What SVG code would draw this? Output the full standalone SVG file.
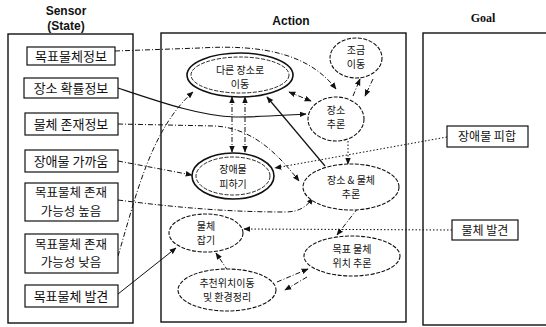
<svg xmlns="http://www.w3.org/2000/svg" width="546" height="327" viewBox="0 0 546 327">
<defs>
<marker id="ah" viewBox="0 0 10 10" refX="9" refY="5" markerWidth="7" markerHeight="7" orient="auto-start-reverse" markerUnits="userSpaceOnUse">
<path d="M0,1 L10,5 L0,9 z" fill="#111"/>
</marker>
<style>
.frame{fill:none;stroke:#111;stroke-width:1.4}
.box{fill:#fff;stroke:#111;stroke-width:1.2}
.st{font-family:"Noto Sans CJK KR","Noto Sans",sans-serif;font-size:13px;fill:#111;text-anchor:middle}
.st2{font-family:"Noto Sans CJK KR","Noto Sans",sans-serif;font-size:12.5px;fill:#111;text-anchor:middle}
.et{font-family:"Noto Sans CJK KR","Noto Sans",sans-serif;font-size:10px;fill:#111;text-anchor:middle}
.gt{font-family:"Noto Sans CJK KR","Noto Sans",sans-serif;font-size:12px;fill:#111;text-anchor:middle}
.hd{font-family:"Liberation Sans",Arial,sans-serif;font-size:12px;font-weight:bold;fill:#111;text-anchor:middle}
.hs{font-family:"Liberation Serif","Times New Roman",serif;font-size:12px;font-weight:bold;fill:#111;text-anchor:middle}
.el{fill:#fff;stroke:#111;stroke-width:1.1;stroke-dasharray:4,1.5}
.eo{fill:#fff;stroke:#111;stroke-width:1.6}
.ei{fill:none;stroke:#111;stroke-width:0.9;stroke-dasharray:4,1.5}
.c{fill:none;stroke:#111;stroke-width:1;marker-end:url(#ah)}
.dd{stroke-dasharray:5,2,1,2}
.dt{stroke-dasharray:1.5,2}
.sl{stroke-width:1.2}
.both{marker-start:url(#ah)}
</style>
</defs>
<rect width="546" height="327" fill="#fff"/>

<g id="headers">
<text class="hd" x="66" y="15">Sensor</text>
<text class="hd" x="66" y="30">(State)</text>
<text class="hd" x="291" y="25">Action</text>
<text class="hs" x="483" y="22">Goal</text>
</g>

<g id="frames">
<rect class="frame" x="8" y="34" width="125" height="289"/>
<rect class="frame" x="161" y="33" width="245" height="289"/>
<rect class="frame" x="423" y="33" width="130" height="292"/>
</g>

<g id="connectors">
<path class="c dd" d="M115,51 L200,48 C265,44 310,55 336,89"/>
<path class="c sl" d="M118,88 C160,102 200,116 235,117 C260,117 285,115 306,114"/>
<path class="c dd" d="M118,124 L215,126 C250,128 275,150 299,181"/>
<path class="c dd" d="M118,161 L192,175"/>
<path class="c dd" d="M118,200 C180,208 230,212 285,212 C300,212 307,206 313,198"/>
<path class="c dd" d="M118,256 C135,200 150,130 193,92"/>
<path class="c" d="M118,294 L176,248"/>
<path class="c dd both" d="M289,92 L311,101"/>
<path class="c dd" d="M353,96 L360,79"/>
<path class="c dd" d="M373,79 L365,96"/>
<path class="c dd both" d="M232,97 L232,152"/>
<path class="c dd both" d="M245,97 L245,152"/>
<path class="c sl" d="M325,166 L267,97"/>
<path class="c dt" d="M348,141 L348,164"/>
<path class="c dd" d="M358,208 L337,235"/>
<path class="c dt" d="M452,230 L244,229"/>
<path class="c dt" d="M447,137 L275,168"/>
<path class="c dd" d="M228,271 L216,253"/>
<path class="c dd" d="M277,282 L308,269"/>
<path class="c dd" d="M307,277 L285,290"/>
</g>

<g id="s1"><rect class="box" x="27" y="47" width="88" height="18"/><text class="st" x="71" y="61">목표물체정보</text></g>
<g id="s2"><rect class="box" x="24" y="78" width="94" height="20"/><text class="st" x="71" y="93">장소 확률정보</text></g>
<g id="s3"><rect class="box" x="25" y="113" width="93" height="22"/><text class="st" x="71" y="129">물체 존재정보</text></g>
<g id="s4"><rect class="box" x="25" y="150" width="93" height="22"/><text class="st" x="71" y="166">장애물 가까움</text></g>
<g id="s5"><rect class="box" x="25" y="183" width="93" height="38"/><text class="st2" x="71" y="197">목표물체 존재</text><text class="st2" x="71" y="215.5">가능성 높음</text></g>
<g id="s6"><rect class="box" x="25" y="234" width="93" height="39"/><text class="st2" x="71" y="248.5">목표물체 존재</text><text class="st2" x="71" y="267">가능성 낮음</text></g>
<g id="s7"><rect class="box" x="25" y="285" width="93" height="22"/><text class="st" x="71" y="301">목표물체 발견</text></g>

<g id="a1"><ellipse class="eo" cx="240" cy="75" rx="53" ry="22"/><ellipse class="ei" cx="240" cy="75" rx="49" ry="18"/><text class="et" x="240" y="74">다른 장소로</text><text class="et" x="240" y="88">이동</text></g>
<g id="a2"><ellipse class="el" cx="356" cy="58" rx="26" ry="20"/><text class="et" x="356" y="54">조금</text><text class="et" x="356" y="68">이동</text></g>
<g id="a3"><ellipse class="el" cx="336" cy="119" rx="28" ry="22"/><text class="et" x="336" y="114">장소</text><text class="et" x="336" y="128">추론</text></g>
<g id="a4"><ellipse class="eo" cx="233" cy="176" rx="41" ry="23"/><ellipse class="ei" cx="233" cy="176" rx="37" ry="19"/><text class="et" x="233" y="173">장애물</text><text class="et" x="233" y="188">피하기</text></g>
<g id="a5"><ellipse class="el" cx="351" cy="187" rx="48" ry="23"/><text class="et" x="351" y="184">장소 &amp; 물체</text><text class="et" x="351" y="198">추론</text></g>
<g id="a6"><ellipse class="el" cx="206" cy="233" rx="37" ry="19"/><text class="et" x="206" y="230">물체</text><text class="et" x="206" y="244">잡기</text></g>
<g id="a7"><ellipse class="el" cx="352" cy="256" rx="48" ry="20"/><text class="et" x="352" y="253">목표 물체</text><text class="et" x="352" y="267">위치 추론</text></g>
<g id="a8"><ellipse class="el" cx="227" cy="290" rx="49" ry="21"/><text class="et" x="227" y="287">추천위치이동</text><text class="et" x="227" y="301">및 환경정리</text></g>

<g id="g1"><rect class="box" x="447" y="126" width="81" height="21"/><text class="gt" x="487" y="141">장애물 피합</text></g>
<g id="g2"><rect class="box" x="452" y="220" width="66" height="20"/><text class="gt" x="485" y="235">물체 발견</text></g>
</svg>
